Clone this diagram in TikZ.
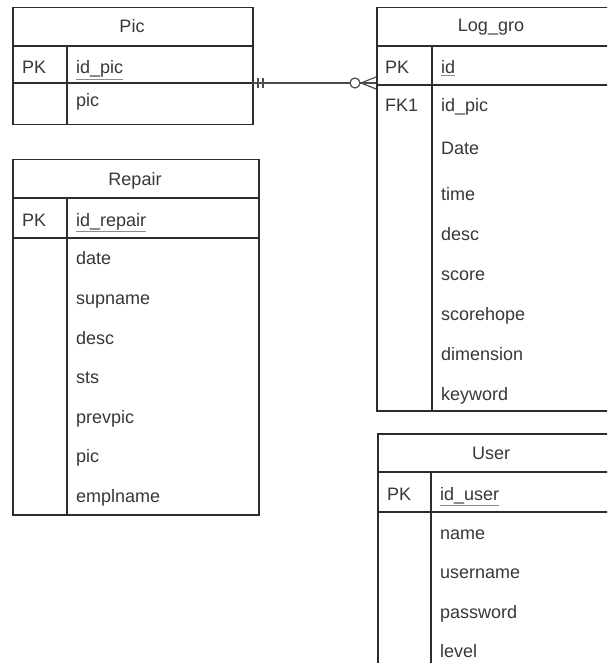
\documentclass[tikz,border=0pt]{standalone}
\usepackage{fontspec}
\setmainfont{Liberation Sans}
\usetikzlibrary{positioning}
\definecolor{erline}{RGB}{45,45,45}
\definecolor{ertext}{RGB}{55,55,55}
\definecolor{ulgray}{RGB}{140,140,140}
\newcommand{\pkul}[1]{\textcolor{ulgray}{\underline{\textcolor{ertext}{#1}}}}
\tikzset{
  tbl/.style={draw=erline,line width=1.5pt,inner sep=0pt,anchor=north west},
  sep/.style={draw=erline,line width=1.5pt},
  ttl/.style={font=\fontsize{18}{21}\selectfont,text=ertext,anchor=base,inner sep=0pt},
  fld/.style={font=\fontsize{18}{21}\selectfont,text=ertext,anchor=base west,inner sep=0pt},
  rel/.style={draw=erline!85,line width=1.2pt}
}
\begin{document}
\begin{tikzpicture}[x=1pt,y=-1pt]
\useasboundingbox (0,0) rectangle (607,663);
\clip (0,0) rectangle (607,663);
% Pic
\node[tbl,minimum width=240pt,minimum height=117pt] (pic) at (12,7) {};
\draw[sep] (12,46) -- (252,46);
\draw[sep] (12,83) -- (252,83);
\draw[sep] (67,46) -- (67,124);
\node[ttl] (pic-title) at (132,33) {Pic};
\node[fld] (pic-pk) at (22,74) {PK};
\node[fld] (pic-id) at (76,74) {\pkul{id\_pic}};
\node[fld] (pic-pic) at (76,107) {pic};
% Repair
\node[tbl,minimum width=246pt,minimum height=355pt] (repair) at (12,159) {};
\draw[sep] (12,198) -- (258,198);
\draw[sep] (12,238) -- (258,238);
\draw[sep] (67,198) -- (67,514);
\node[ttl] (repair-title) at (135,185) {Repair};
\node[fld] (repair-pk) at (22,226) {PK};
\node[fld] (repair-id) at (76,226) {\pkul{id\_repair}};
\foreach \t/\b in {date/264,supname/304,desc/344,sts/383,prevpic/423,pic/462,emplname/502}
  \node[fld] (repair-\t) at (76,\b) {\t};
% Log_gro
\node[tbl,minimum width=260pt,minimum height=403pt] (loggro) at (376,7) {};
\draw[sep] (376,46) -- (640,46);
\draw[sep] (376,85) -- (640,85);
\draw[sep] (432,46) -- (432,410);
\node[ttl] (loggro-title) at (491,32) {Log\_gro};
\node[fld] (loggro-pk) at (385,74) {PK};
\node[fld] (loggro-id) at (441,74) {\pkul{id}};
\node[fld] (loggro-fk) at (385,112) {FK1};
\node[fld] (loggro-idpic) at (441,112) {id\_pic};
\foreach \t/\b in {Date/155,time/200,desc/240,score/280,scorehope/320,dimension/360,keyword/400}
  \node[fld] (loggro-\t) at (441,\b) {\t};
% User
\node[tbl,minimum width=260pt,minimum height=260pt] (user) at (377,433) {};
\draw[sep] (377,472) -- (640,472);
\draw[sep] (377,512) -- (640,512);
\draw[sep] (431,472) -- (431,700);
\node[ttl] (user-title) at (491,459) {User};
\node[fld] (user-pk) at (387,500) {PK};
\node[fld] (user-id) at (440,500) {\pkul{id\_user}};
\foreach \t/\b in {name/539,username/578,password/618,level/657}
  \node[fld] (user-\t) at (440,\b) {\t};
% relation Pic -- Log_gro
\coordinate (pic-link) at (252,83);
\coordinate (loggro-link) at (376,83);
\draw[rel] (pic-link) -- (loggro-link);
\draw[rel] (pic-link) ++(6,-5) -- ++(0,10);
\draw[rel] (pic-link) ++(11,-5) -- ++(0,10);
\draw[rel,fill=white] (loggro-link) ++(-21,0) circle (5pt);
\draw[rel] (loggro-link) ++(0,-6) -- ++(-15,6) -- ++(15,6);
\end{tikzpicture}
\end{document}
